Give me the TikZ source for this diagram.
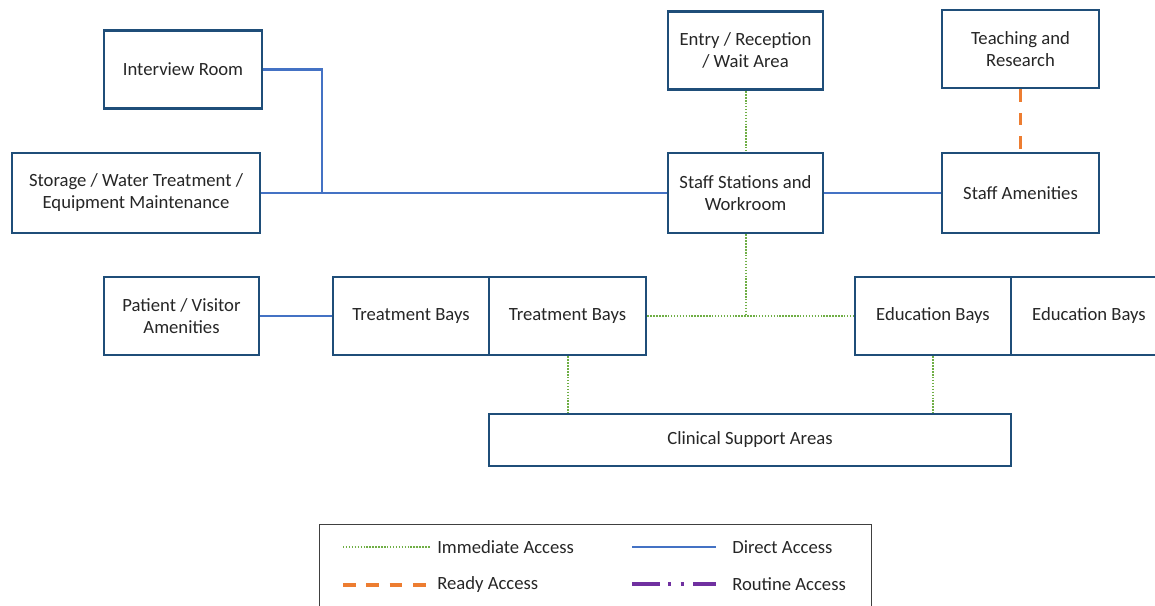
\documentclass[tikz,border=0pt]{standalone}
\usepackage{fontspec}
\setmainfont{Carlito}
\begin{document}
\begin{tikzpicture}[x=0.75pt,y=-0.75pt,
  room/.style={draw=boxblue,line width=2.2pt,fill=white,rectangle,inner sep=2pt,
    align=center,font=\fontsize{14}{16.5}\selectfont,text=textgray,
    minimum width=#1*0.75pt},
  room/.default=156,
  direct/.style={draw=lineblue,line width=2.1pt},
  immediate/.style={draw=dotgreen,line width=1.5pt,dash pattern=on 1.1pt off 1.1pt},
  ready/.style={draw=readyorange,line width=2.4pt,dash pattern=on 9.5pt off 8pt},
  routine/.style={draw=routinepurple,line width=2.4pt,dash pattern=on 21pt off 6pt on 2.5pt off 7pt on 2.5pt off 7pt},
  legtext/.style={font=\fontsize{14}{16}\selectfont,text=textgray,anchor=west,inner sep=0pt}]
\definecolor{boxblue}{HTML}{1F4E79}
\definecolor{lineblue}{HTML}{4472C4}
\definecolor{dotgreen}{HTML}{6FAE45}
\definecolor{readyorange}{HTML}{ED7D31}
\definecolor{routinepurple}{HTML}{7030A0}
\definecolor{textgray}{HTML}{262626}
\definecolor{legendgray}{HTML}{404040}

\useasboundingbox (0,0) rectangle (1155,606);
\clip (0,0) rectangle (1155,606);

% rooms
\node[room=158,minimum height=59pt] (interview) at (183,69.5) {Interview Room};
\node[room=248,minimum height=60pt] (storage) at (136,193) {Storage / Water Treatment /\\Equipment Maintenance};
\node[room=155,minimum height=59pt] (entry) at (745.5,50.5) {Entry / Reception\\/ Wait Area};
\node[room=157,minimum height=58.5pt] (teach) at (1020.5,49) {Teaching and\\Research};
\node[room=155,minimum height=60pt] (staff) at (745.5,193) {Staff Stations and\\Workroom};
\node[room=157,minimum height=60pt] (amen) at (1020.5,193) {Staff Amenities};
\node[room=155,minimum height=58.5pt] (patient) at (181.5,316) {Patient / Visitor\\Amenities};
\node[room=156,minimum height=58.5pt] (treat1) at (411,316) {Treatment Bays};
\node[room=157,minimum height=58.5pt] (treat2) at (567.5,316) {Treatment Bays};
\node[room=156,minimum height=58.5pt] (edu1) at (933,316) {Education Bays};
\node[room=156,minimum height=58.5pt] (edu2) at (1089,316) {Education Bays};
\node[room=522,minimum height=39pt] (clinical) at (750,440) {Clinical Support Areas};

% direct access
\coordinate (j1) at (322,193);
\draw[direct] (interview.east) -| (j1);
\draw[direct] (storage.east) -- (staff.west);
\draw[direct] (staff.east) -- (amen.west);
\draw[direct] (patient.east) -- (treat1.west);

% immediate access
\coordinate (j2) at (745.5,316);
\draw[immediate] (entry.south) -- (staff.north);
\draw[immediate] (staff.south) -- (j2);
\draw[immediate] (treat2.east) -- (edu1.west);
\draw[immediate] (treat2.south) -- (treat2.south |- clinical.north);
\draw[immediate] (edu1.south) -- (edu1.south |- clinical.north);

% ready access
\draw[ready] (teach.south) -- (amen.north);

% legend
\node[draw=legendgray,line width=0.9pt,rectangle,minimum width=552*0.75pt,minimum height=90*0.75pt,anchor=north west] (legend) at (319,524) {};
\coordinate (la1) at (343,547); \coordinate (la2) at (430,547);
\coordinate (lb1) at (632,547); \coordinate (lb2) at (716,547);
\coordinate (lc1) at (343,585); \coordinate (lc2) at (430,585);
\coordinate (ld1) at (632,584); \coordinate (ld2) at (716,584);
\draw[immediate] (la1) -- (la2);
\draw[direct] (lb1) -- (lb2);
\draw[ready] (lc1) -- (lc2);
\draw[routine] (ld1) -- (ld2);
\node[legtext] (ta) at (437,547) {Immediate Access};
\node[legtext] (tb) at (732,547) {Direct Access};
\node[legtext] (tc) at (437,585) {Ready Access};
\node[legtext] (td) at (732,584) {Routine Access};
\end{tikzpicture}
\end{document}
